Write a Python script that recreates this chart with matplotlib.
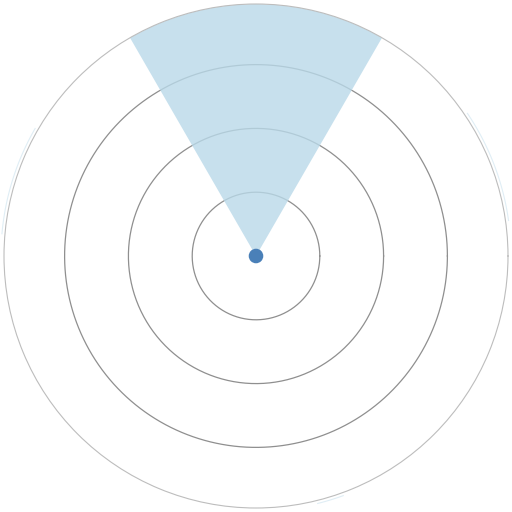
import numpy as np
import matplotlib
matplotlib.use("Agg")
import matplotlib.pyplot as plt

# data
sector_center_deg = [90]
sector_width_deg = [60]
sector_value = [3.95]
ring_levels = [1, 2, 3]
r_max = 3.95
faint_arcs_deg = [(150, 175), (8, 34), (-76, -70)]

fig = plt.figure(figsize=(5.12, 5.12), dpi=100)
ax = fig.add_axes([4/512, 4/512, 504/512, 504/512], projection="polar")
ax.set_ylim(0, r_max)
ax.set_xticks([])
ax.set_yticks([])
ax.grid(False)
ax.spines["polar"].set_color("#bdbdbd")
ax.spines["polar"].set_linewidth(0.8)

th = np.linspace(0, 2*np.pi, 400)
for r in ring_levels:
    ax.plot(th, np.full_like(th, r), color="#8f8f8f", lw=0.9, zorder=1)

ax.bar(np.deg2rad(sector_center_deg), sector_value, width=np.deg2rad(sector_width_deg),
       bottom=0, color="#b9d9e9", alpha=0.8, edgecolor="none", zorder=2)

for a0, a1 in faint_arcs_deg:
    t = np.deg2rad(np.linspace(a0, a1, 50))
    ax.plot(t, np.full_like(t, r_max*1.012), color="#a6cee3", lw=0.8, alpha=0.35,
            clip_on=False, zorder=1)

ax.scatter([0], [0], s=110, color="#4a80b8", zorder=5, edgecolors="none")

fig.savefig("out.png", dpi=100)
